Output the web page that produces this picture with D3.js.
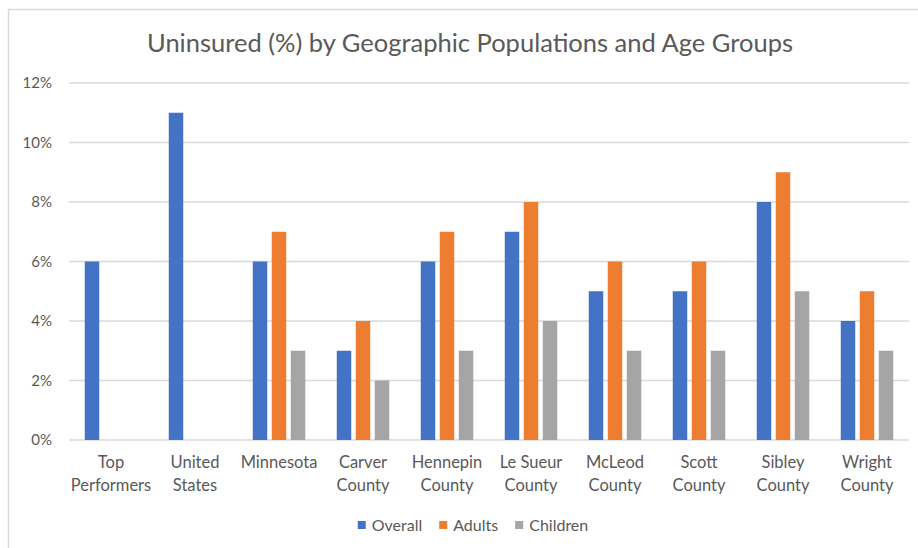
<!DOCTYPE html>
<html>
<head>
<meta charset="utf-8">
<script src="https://cdn.jsdelivr.net/npm/d3@7"></script>
<style>
	body { margin: 0; background: #fff; }
	svg { display: block; font-family: Lato, "Open Sans", sans-serif; }
</style>
</head>
<body>
<svg id="chart" width="918" height="548"></svg>
<script>
// data
const categories = ['Top Performers', 'United States', 'Minnesota', 'Carver County', 'Hennepin County',
	'Le Sueur County', 'McLeod County', 'Scott County', 'Sibley County', 'Wright County']
const seriesNames = ['Overall', 'Adults', 'Children']
const overall = [6, 11, 6, 3, 6, 7, 5, 5, 8, 4]
const adults = [null, null, 7, 4, 7, 8, 6, 6, 9, 5]
const children = [null, null, 3, 2, 3, 4, 3, 3, 5, 3]
const yTicks = [0, 2, 4, 6, 8, 10, 12]
const colors = ['#4472c4', '#ed7d31', '#a5a5a5']
const titleText = 'Uninsured (%) by Geographic Populations and Age Groups'

const seriesValues = [overall, adults, children]
const textColor = '#595959'
const gridColor = '#d9d9d9'

const svg = d3.select('#chart')

// chart area border (runs off the right and bottom edge)
svg.append('rect')
	.attr('x', 8.5).attr('y', 9.5)
	.attr('width', 960).attr('height', 600)
	.attr('fill', 'white')
	.attr('stroke', gridColor)
	.attr('stroke-width', 1.5)

const plot = { left: 69, right: 909, top: 83, bottom: 440 }

const x = d3.scaleBand()
	.domain(categories)
	.range([plot.left, plot.right])

const x1 = d3.scaleBand()
	.domain(seriesNames)
	.range([15.75, 68.25])
	.paddingInner(0.237)

const y = d3.scaleLinear()
	.domain([0, 12])
	.range([plot.bottom, plot.top])

// gridlines
svg.append('g')
	.selectAll('line')
	.data(yTicks)
	.join('line')
	.attr('x1', plot.left).attr('x2', plot.right)
	.attr('y1', d => y(d)).attr('y2', d => y(d))
	.attr('stroke', gridColor)
	.attr('stroke-width', 1.3)

// y tick labels
svg.append('g')
	.selectAll('text')
	.data(yTicks)
	.join('text')
	.attr('x', 52)
	.attr('y', d => y(d))
	.attr('dy', '0.35em')
	.attr('text-anchor', 'end')
	.attr('fill', textColor)
	.attr('font-size', 15)
	.text(d => d + '%')

// bars
const groups = svg.append('g')
	.selectAll('g')
	.data(categories)
	.join('g')
	.attr('transform', d => `translate(${x(d)},0)`)

groups.selectAll('rect')
	.data((d, i) => seriesNames.map((s, j) => ({ s, j, v: seriesValues[j][i] })).filter(e => e.v != null))
	.join('rect')
	.attr('x', d => x1(d.s))
	.attr('width', x1.bandwidth())
	.attr('y', d => y(d.v))
	.attr('height', d => y(0) - y(d.v))
	.attr('fill', d => colors[d.j])

// category labels, broken at the last space
const catLabels = svg.append('g')
	.selectAll('text')
	.data(categories)
	.join('text')
	.attr('x', d => x(d) + x.bandwidth() / 2)
	.attr('y', 468)
	.attr('text-anchor', 'middle')
	.attr('fill', textColor)
	.attr('font-size', 16.5)

catLabels.each(function (d) {
	const k = d.lastIndexOf(' ')
	const lines = k < 0 ? [d] : [d.slice(0, k), d.slice(k + 1)]
	d3.select(this).selectAll('tspan')
		.data(lines)
		.join('tspan')
		.attr('x', x(d) + x.bandwidth() / 2)
		.attr('dy', (l, i) => i === 0 ? 0 : 23)
		.text(l => l)
})

// title
svg.append('text')
	.attr('x', 470)
	.attr('y', 52)
	.attr('text-anchor', 'middle')
	.attr('fill', textColor)
	.attr('font-size', 25.5)
	.text(titleText)

// legend, laid out left to right then centred
const legend = svg.append('g')
let lx = 0
seriesNames.forEach((s, i) => {
	const item = legend.append('g').attr('transform', `translate(${lx},0)`)
	item.append('rect')
		.attr('x', 0).attr('y', -4)
		.attr('width', 8).attr('height', 8)
		.attr('fill', colors[i])
	const t = item.append('text')
		.attr('x', 14)
		.attr('dy', '0.35em')
		.attr('fill', textColor)
		.attr('font-size', 16)
		.text(s)
	lx += 14 + t.node().getComputedTextLength() + 17
})
const legendWidth = lx - 17
legend.attr('transform', `translate(${473 - legendWidth / 2},525)`)
</script>
</body>
</html>
